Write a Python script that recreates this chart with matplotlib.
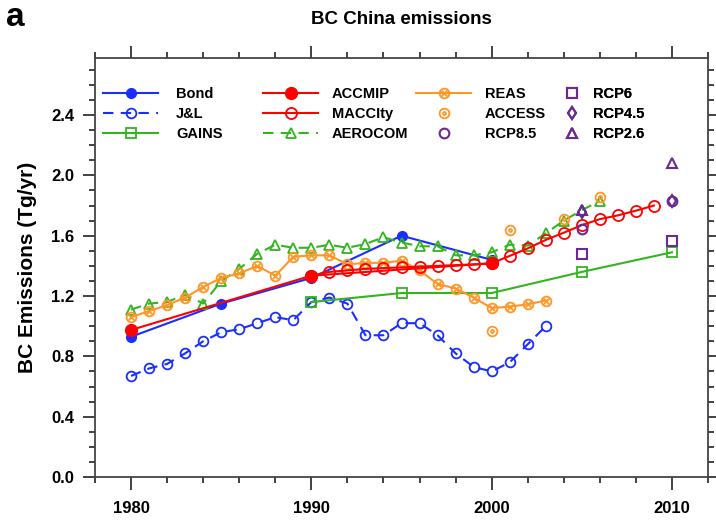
import matplotlib
matplotlib.use("Agg")
import matplotlib.pyplot as plt
from matplotlib.path import Path
import numpy as np

plt.rcParams['font.family'] = ['Liberation Sans', 'DejaVu Sans']
plt.rcParams['font.weight'] = 'bold'

# ---------------- data ----------------
bond_years = [1980, 1985, 1990, 1995, 2000]
bond = [0.93, 1.15, 1.32, 1.60, 1.44]

jl_years = list(range(1980, 2004))
jl = [0.67, 0.72, 0.75, 0.82, 0.90, 0.96, 0.98, 1.02, 1.06, 1.04,
      1.16, 1.19, 1.15, 0.94, 0.94, 1.02, 1.02, 0.94, 0.82, 0.73,
      0.70, 0.76, 0.88, 1.00]

gains_years = [1990, 1995, 2000, 2005, 2010]
gains = [1.16, 1.22, 1.22, 1.36, 1.49]

accmip_years = [1980, 1990, 2000]
accmip = [0.975, 1.335, 1.417]

maccity_years = list(range(1990, 2010))
maccity = [1.335, 1.36, 1.37, 1.38, 1.385, 1.39, 1.395, 1.40, 1.405, 1.41,
           1.417, 1.466, 1.516, 1.572, 1.62, 1.67, 1.71, 1.735, 1.766, 1.80]

aerocom_years = list(range(1980, 2007))
aerocom = [1.11, 1.15, 1.16, 1.21, 1.15, 1.30, 1.38, 1.48, 1.54, 1.52,
           1.52, 1.54, 1.52, 1.545, 1.59, 1.555, 1.53, 1.53, 1.47, 1.47,
           1.49, 1.54, 1.535, 1.615, 1.70, 1.77, 1.83]

reas_years = list(range(1980, 2004))
reas = [1.06, 1.10, 1.14, 1.19, 1.26, 1.32, 1.35, 1.40, 1.335, 1.46,
        1.47, 1.47, 1.41, 1.42, 1.42, 1.435, 1.37, 1.28, 1.25, 1.19,
        1.12, 1.13, 1.145, 1.17]

access_years = [2000, 2001, 2004, 2006]
access = [0.97, 1.64, 1.71, 1.86]

rcp_years = [2005, 2010]
rcp85 = [1.645, 1.83]
rcp6 = [1.48, 1.565]
rcp45 = [1.76, 1.83]
rcp26 = [1.77, 2.08]

# ---------------- style ----------------
BLUE = '#1a2eff'
RED = '#ff0000'
GREEN = '#33b51f'
ORANGE = '#ff9626'
PURPLE = '#6a2a92'

circ = Path.unit_circle()
r = 0.55
cross = Path([(-r, -r), (r, r), (-r, r), (r, -r)],
             [Path.MOVETO, Path.LINETO, Path.MOVETO, Path.LINETO])
otimes = Path.make_compound_path(circ, cross)
small = Path(circ.vertices * 0.3, circ.codes)
odot = Path.make_compound_path(circ, small)

fig = plt.figure(figsize=(7.16, 5.22), dpi=100)
W, H = 716, 522
left, right, top, bottom = 95, 708, 58, 477
ax = fig.add_axes([left / W, 1 - bottom / H, (right - left) / W, (bottom - top) / H])

lw = 1.5
ms = 7
dash = (0, (5, 3.5))

hb, = ax.plot(bond_years, bond, color=BLUE, lw=lw, marker='o', ms=ms, zorder=3)
hj, = ax.plot(jl_years, jl, color=BLUE, lw=lw, ls=dash, marker='o', ms=ms,
              mfc='none', mew=1.3, zorder=3)
hg, = ax.plot(gains_years, gains, color=GREEN, lw=lw, marker='s', ms=ms,
              mfc='none', mew=1.3, zorder=3)
hae, = ax.plot(aerocom_years, aerocom, color=GREEN, lw=lw, ls=dash, marker='^',
               ms=ms + 0.5, mfc='none', mew=1.3, zorder=3)
hr, = ax.plot(reas_years, reas, color=ORANGE, lw=lw, marker=otimes, ms=ms,
              mfc='none', mew=1.3, zorder=4)
hac, = ax.plot(access_years, access, color=ORANGE, ls='none', marker=odot, ms=ms,
               mfc='none', mew=1.3, zorder=4)
hm, = ax.plot(maccity_years, maccity, color=RED, lw=lw, marker='o', ms=ms + 1,
              mfc='none', mew=1.3, zorder=5)
ha, = ax.plot(accmip_years, accmip, color=RED, lw=lw, marker='o', ms=ms + 1.5,
              zorder=6)
h85, = ax.plot(rcp_years, rcp85, color=PURPLE, ls='none', marker='o', ms=ms,
               mfc='none', mew=1.5, zorder=5)
h6, = ax.plot(rcp_years, rcp6, color=PURPLE, ls='none', marker='s', ms=ms,
              mfc='none', mew=1.5, zorder=5)
h45, = ax.plot(rcp_years, rcp45, color=PURPLE, ls='none', marker='d', ms=ms - 1,
               mfc='none', mew=1.5, zorder=5)
h26, = ax.plot(rcp_years, rcp26, color=PURPLE, ls='none', marker='^', ms=ms,
               mfc='none', mew=1.5, zorder=5)

ax.set_xlim(1978, 2012)
ax.set_ylim(0, (bottom - top) / 150.8)
ax.set_xticks([1980, 1990, 2000, 2010])
ax.set_xticks(np.arange(1978, 2013, 2), minor=True)
ax.set_yticks(np.arange(0, 2.41, 0.4))
ax.set_yticks(np.arange(0, 2.8, 0.1), minor=True)
ax.set_yticklabels([f"{v:.1f}" for v in np.arange(0, 2.41, 0.4)])
ax.tick_params(which='both', direction='out', top=True, right=True,
               labelsize=12, color='#222222', width=1.2)
ax.tick_params(which='major', length=9)
ax.tick_params(which='minor', length=4.5)
ax.tick_params(axis='x', pad=8)
ax.tick_params(axis='y', pad=6)
for sp in ax.spines.values():
    sp.set_linewidth(1.3)
    sp.set_color('#444444')
for lab in ax.get_xticklabels() + ax.get_yticklabels():
    lab.set_fontweight('bold')

ax.set_ylabel('BC Emissions (Tg/yr)', fontsize=15, fontweight='bold', labelpad=10)
fig.text(401 / W, 1 - 20 / H, 'BC China emissions', ha='center', va='center',
         fontsize=13.5, fontweight='bold')
fig.text(6 / W, 1 - 18 / H, 'a', ha='left', va='center', fontsize=24,
         fontweight='bold')

# legend, column by column
cols = [([hb, hj, hg], ['Bond', 'J&L', 'GAINS'], 103, 3.8, 1.2),
        ([ha, hm, hae], ['ACCMIP', 'MACCIty', 'AEROCOM'], 263, 3.8, 0.9),
        ([hr, hac, h85], ['REAS', 'ACCESS', 'RCP8.5'], 416, 3.8, 0.9),
        ([h6, h45, h26], ['RCP6', 'RCP4.5', 'RCP2.6'], 565, 0.9, 1.0)]
for hs, labs, x0, hl, tp in cols:
    lg = ax.legend(hs, labs, loc='upper left',
                   bbox_to_anchor=(x0 / W, 1 - 87 / H),
                   bbox_transform=fig.transFigure, frameon=False,
                   handlelength=hl, handletextpad=tp,
                   labelspacing=0.42, borderpad=0, borderaxespad=0,
                   prop={'weight': 'bold', 'size': 10.5})
    ax.add_artist(lg)

fig.savefig('out.png', dpi=100)
